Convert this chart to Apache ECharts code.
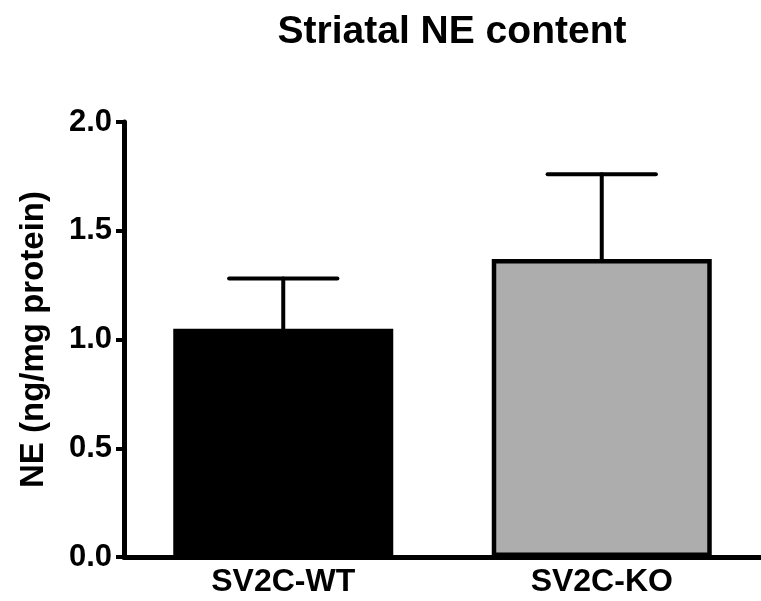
<!DOCTYPE html>
<html>
<head>
<meta charset="utf-8">
<script src="https://cdn.jsdelivr.net/npm/echarts@6/dist/echarts.min.js"></script>
<style>
  html, body { margin: 0; padding: 0; background: #fff; }
  #main { width: 761px; height: 601px; }
</style>
</head>
<body>
<div id="main"></div>
<script>
var categories = ["SV2C-WT", "SV2C-KO"];
var means = [1.05, 1.37];
var errTops = [1.28, 1.76];
var barColors = ["#000000", "#adadad"];
var yTicks = [0, 0.5, 1.0, 1.5, 2.0];

var font = "'Liberation Sans', Arial, sans-serif";

var myChart = echarts.init(document.getElementById("main"));

myChart.setOption({
  animation: false,
  title: {
    text: "Striatal NE content",
    left: 447,
    top: 8,
    textAlign: "center",
    textStyle: { fontFamily: font, fontSize: 39, fontWeight: "bold", color: "#000" }
  },
  grid: { left: 124, top: 122, width: 648, bottom: 44 },
  xAxis: {
    type: "category",
    data: categories,
    axisLine: { lineStyle: { color: "#000", width: 5 } },
    axisTick: { alignWithLabel: true, length: 8, lineStyle: { color: "#000", width: 4 } },
    axisLabel: { margin: 9, fontFamily: font, fontSize: 32, fontWeight: "bold", color: "#000" }
  },
  yAxis: {
    type: "value",
    min: yTicks[0],
    max: yTicks[yTicks.length - 1],
    interval: 0.5,
    name: "NE (ng/mg protein)",
    nameLocation: "middle",
    nameGap: 74,
    nameTextStyle: { fontFamily: font, fontSize: 33, fontWeight: "bold", color: "#000" },
    splitLine: { show: false },
    axisLine: { show: true, lineStyle: { color: "#000", width: 5 } },
    axisTick: { show: true, length: 8, lineStyle: { color: "#000", width: 4 } },
    axisLabel: {
      margin: 12,
      fontFamily: font, fontSize: 31, fontWeight: "bold", color: "#000",
      formatter: function (v) { return v.toFixed(1); }
    }
  },
  series: [
    {
      type: "bar",
      barWidth: 220,
      data: means.map(function (v, i) {
        return {
          value: v,
          itemStyle: { color: barColors[i], borderColor: "#000", borderWidth: 4.5 }
        };
      }),
      z: 2
    },
    {
      type: "custom",
      z: 1,
      data: means.map(function (v, i) { return [i, v, errTops[i]]; }),
      renderItem: function (params, api) {
        var x = api.value(0);
        var base = api.coord([x, api.value(1)]);
        var top = api.coord([x, api.value(2)]);
        var half = api.size([1, 0])[0] * 0.17;
        var style = { stroke: "#000", lineWidth: 4, lineCap: "round" };
        return {
          type: "group",
          children: [
            { type: "line", shape: { x1: base[0], y1: base[1], x2: top[0], y2: top[1] }, style: style },
            { type: "line", shape: { x1: top[0] - half, y1: top[1], x2: top[0] + half, y2: top[1] }, style: style }
          ]
        };
      }
    }
  ]
});
</script>
</body>
</html>
